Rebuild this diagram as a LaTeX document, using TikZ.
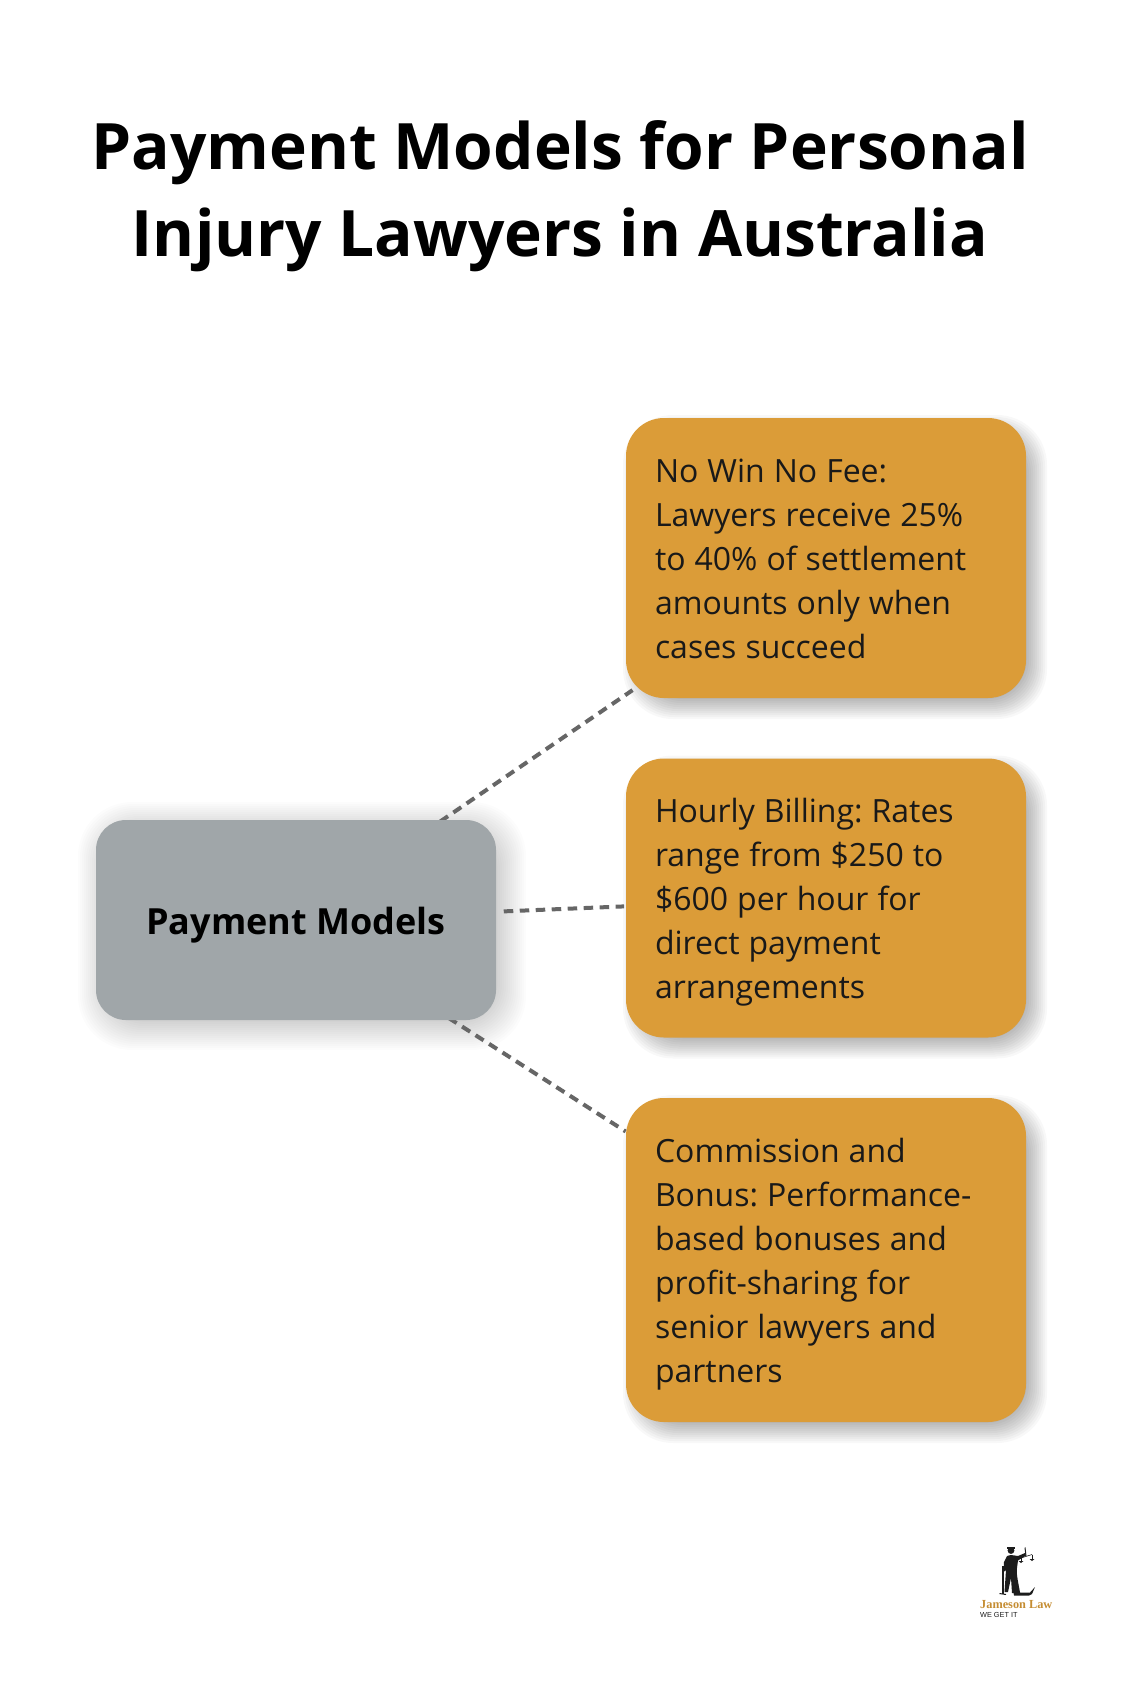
\documentclass[tikz,border=0pt]{standalone}
\usepackage{fontspec}
\setmainfont{Open Sans}
\newfontfamily\logoserif{Liberation Serif}
\newfontfamily\logosans{Liberation Sans}
\usetikzlibrary{calc}
\frenchspacing
\definecolor{gold}{HTML}{DB9C38}
\definecolor{slate}{HTML}{A0A6A9}
\definecolor{dashgray}{HTML}{666666}
\definecolor{logoink}{HTML}{1C1C1C}
\newcommand{\softshadow}[5]{%
  \foreach \g in {0,2,...,24}{%
    \fill[black,opacity=0.026,rounded corners={#5pt+12pt-\g*0.5pt}]
      ($(#1,#2)+(-12+\g*1.0+9,-12+\g*1.0+9)$) rectangle ($(#3,#4)+(12-\g*1.0+9,12-\g*1.0+9)$);
  }%
}
\newcommand{\wideshadow}[5]{%
  \foreach \g in {0,2,...,48}{%
    \fill[black,opacity=0.012,rounded corners={#5pt+24pt-\g*0.5pt}]
      ($(#1,#2)+(-24+\g*1.0+6,-24+\g*1.0+6)$) rectangle ($(#3,#4)+(24-\g*1.0+6,24-\g*1.0+6)$);
  }%
}
\newcommand{\firstrow}{\spaceskip=9pt\relax\rule{0pt}{36pt}}
\newcommand{\lastrow}{\rule[-12pt]{0pt}{12pt}}
\tikzset{
  x=1pt,y=-1pt,
  card/.style={minimum width=400pt,inner sep=0pt,outer sep=0pt,anchor=center},
  goldcard/.style={card,rounded corners=38pt,fill=gold,text width=342pt,align=left,font=\fontsize{32pt}{44pt}\selectfont,text=black!90},
  hubcard/.style={card,rounded corners=30pt,fill=slate,minimum height=200pt,align=center,font=\bfseries\fontsize{36pt}{44pt}\selectfont,text=black},
  link/.style={draw=dashgray,line width=4pt,dash pattern=on 9.5pt off 6.5pt},
  heading/.style={align=center,font=\bfseries\fontsize{64pt}{87pt}\selectfont,text=black,inner sep=0pt},
  logoshape/.style={fill=logoink,draw=none},
}
\begin{document}
\begin{tikzpicture}
\useasboundingbox (0,0) rectangle (1120,1682);
\fill[white] (0,0) rectangle (1120,1682);
\wideshadow{96}{820}{496}{1020}{30}
\softshadow{626}{418}{1026}{698}{38}
\softshadow{626}{758.5}{1026}{1037.5}{38}
\softshadow{626}{1098}{1026}{1422}{38}
\coordinate (hubc) at (296,920);
\coordinate (ac) at (826,558);
\coordinate (bc) at (826,898);
\coordinate (cc) at (826,1260);
\draw[link] ($(hubc)!0.272!(ac)$) -- ($(hubc)!0.635!(ac)$);
\draw[link] ($(hubc)!0.392!(bc)$) -- ($(hubc)!0.619!(bc)$);
\draw[link] ($(hubc)!0.288!(cc)$) -- ($(hubc)!0.622!(cc)$);
\node[heading] (title) at (560,196.4) {Payment Models for Personal\\Injury Lawyers in Australia};
\node[hubcard] (hub) at (296,920) {\rule{0pt}{38pt}Payment Models};
\node[goldcard,minimum height=280pt] (a) at (826,558) {\firstrow No Win No Fee:\\Lawyers receive 25\%\\to 40\% of settlement\\amounts only when\\cases succeed\lastrow};
\node[goldcard,minimum height=279pt] (b) at (826,898) {\firstrow Hourly Billing: Rates\\range from \$250 to\\\$600 per hour for\\direct payment\\arrangements\lastrow};
\node[goldcard,minimum height=324pt] (c) at (826,1260) {\firstrow Commission and\\Bonus: Performance-\\based bonuses and\\profit-sharing for\\senior lawyers and\\partners\lastrow};
% logo
\fill[logoink] (1011,1550.5) circle (3.4);
\fill[logoink] (1007,1546.5) rectangle (1015,1548.5);
\path[logoshape] (1007,1556) .. controls (1011,1554) and (1016,1556) .. (1018,1556) -- (1025,1553) -- (1026,1555.5) -- (1018,1560.5) -- (1017,1568) .. controls (1016,1575) and (1019,1585) .. (1020,1593) -- (1012,1593) -- (1011,1578) -- (1008,1592) -- (1004.5,1592) -- (1006,1570) -- (1003.5,1572) -- (1004,1562) -- cycle;
\draw[logoink,line width=1pt] (1025,1547.5) -- (1026,1556);
\draw[logoink,line width=0.6pt] (1021,1558) -- (1032,1554.5);
\draw[logoink,line width=0.4pt] (1021,1558) -- (1021,1561) (1032,1554.5) -- (1032,1559);
\fill[logoink] (1018.5,1561) -- (1023.5,1561) -- (1021,1563) -- cycle;
\fill[logoink] (1029.5,1559) -- (1034.5,1559) -- (1032,1561) -- cycle;
\draw[logoink,line width=1.2pt] (1003,1566) -- (1003,1594);
\draw[logoink,line width=1pt] (999.5,1593.5) -- (1006,1594.5);
\path[logoshape] (1013,1590) -- (1019,1590) -- (1020,1592.5) -- (1030,1592.5) -- (1035,1587) -- (1032,1594) -- (1029,1595.5) -- (1014,1595.5) -- cycle;
\node[inner sep=0pt,anchor=base west,text=gold!90!black,font=\logoserif\bfseries\fontsize{12.3pt}{13pt}\selectfont] (lg) at (980,1608.5) {Jameson Law};
\node[inner sep=0pt,anchor=base west,text=logoink,font=\logosans\fontsize{7.3pt}{8pt}\selectfont] (lt) at (980,1617) {WE GET IT};
\end{tikzpicture}
\end{document}
